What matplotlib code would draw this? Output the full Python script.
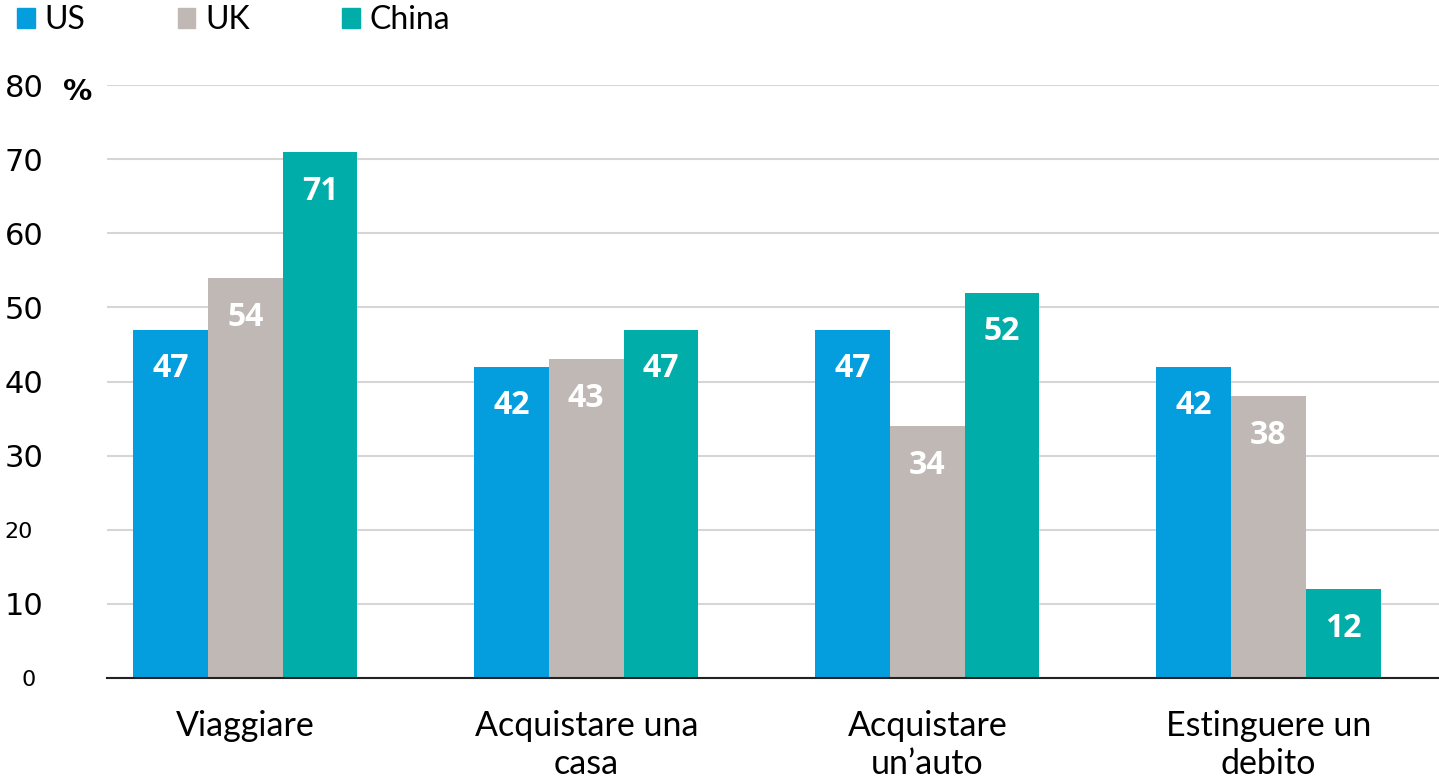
import numpy as np
import matplotlib.pyplot as plt
from matplotlib.patches import Patch

categorie = ['Viaggiare', 'Acquistare una\ncasa', 'Acquistare\nun\u2019auto', 'Estinguere un\ndebito']
paesi = ['US', 'UK', 'China']
us = [47, 42, 47, 42]
uk = [54, 43, 34, 38]
china = [71, 47, 52, 12]
colori = ['#049DDD', '#BFB8B5', '#00ADA8']
yticks = [0, 10, 20, 30, 40, 50, 60, 70, 80]

fig = plt.figure(figsize=(14.39, 7.83), dpi=100)
ax = fig.add_axes([0.0744, 0.1341, 0.9256, 0.7573])

x = np.arange(len(categorie))
w = 0.219
for i, (serie, col) in enumerate(zip([us, uk, china], colori)):
    pos = x + (i - 1) * w
    ax.bar(pos, serie, width=w, color=col, zorder=3)
    for px, v in zip(pos, serie):
        ax.text(px, v - 5.3, str(v), ha='center', va='center', color='white',
                fontsize=23, fontweight='bold', family='Open Sans', zorder=4)

ax.set_xlim(-0.405, 3.50)
ax.set_ylim(0, 80)
ax.set_yticks(yticks)
ax.yaxis.grid(True, color='#D9D5D2', lw=1.5, zorder=0)
for s in ['top', 'right', 'left']:
    ax.spines[s].set_visible(False)
ax.spines['bottom'].set_color('#222222')
ax.spines['bottom'].set_linewidth(1.5)
ax.spines['bottom'].set_zorder(5)

# etichette asse y (dimensioni diverse come nell'originale)
ax.tick_params(axis='y', length=0, pad=0)
ax.set_yticklabels([str(t) for t in yticks], fontsize=22, family='DejaVu Sans')
for lab, t in zip(ax.get_yticklabels(), yticks):
    lab.set_horizontalalignment('left')
    lab.set_x(-0.077)
    if t == 20:
        lab.set_fontsize(16)
    if t == 0:
        lab.set_fontsize(16)
        lab.set_x(-0.064)

ax.set_xticks(x)
ax.set_xticklabels(categorie, fontsize=24.5, family='Lato', linespacing=1.25)
ax.tick_params(axis='x', length=0, pad=23)

ax.text(-0.022, 79, '%', transform=ax.get_yaxis_transform(), ha='center', va='center',
        fontsize=21, fontweight='bold', family='DejaVu Sans')

handles = [Patch(color=c) for c in colori]
fig.legend(handles, paesi, loc='upper left', bbox_to_anchor=(-0.008, 1.03), ncol=3,
           frameon=False, prop={'family': 'Lato', 'size': 23},
           handlelength=0.55, handleheight=0.55, handletextpad=0.3, columnspacing=2.9)

fig.savefig('out.png', dpi=100)
